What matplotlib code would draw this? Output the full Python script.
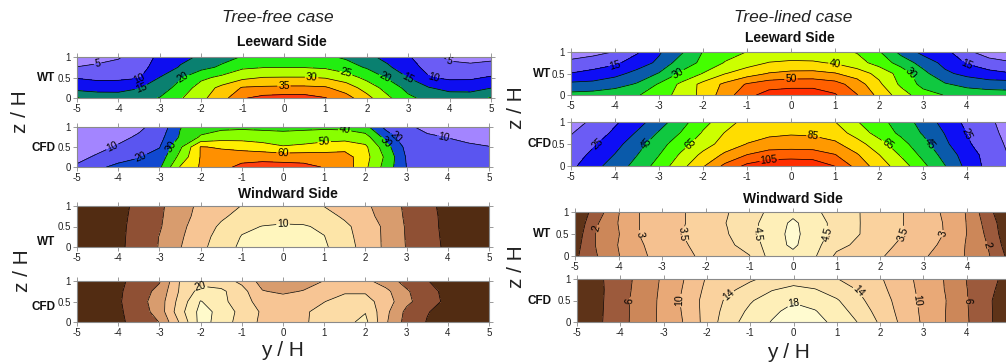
import numpy as np
import matplotlib
matplotlib.use('Agg')
import matplotlib.pyplot as plt

plt.rcParams['font.family'] = ['Liberation Sans', 'DejaVu Sans']
plt.rcParams['axes.unicode_minus'] = False

# grid positions (y/H across street, z/H height)
y_pos = [-5.0, -4.5, -4.0, -3.5, -3.0, -2.5, -2.0, -1.5, -1.0, -0.5, 0.0,
         0.5, 1.0, 1.5, 2.0, 2.5, 3.0, 3.5, 4.0, 4.5, 5.0]
z_pos = [0.0, 0.25, 0.5, 0.75, 1.0]

# ---------------- Tree-free, leeward, WT ----------------
free_lee_wt = [
    [20.3, 18, 17.3, 18.3, 20.2, 24.5, 28.8, 33, 39.5, 41.5, 42, 42, 40.2, 37, 31.5, 26, 21, 18.5, 17.3, 17.8, 20.3],
    [13, 12.8, 13.2, 14.7, 17.5, 21.8, 27.3, 31.3, 35.4, 35.8, 36, 36, 35.6, 32.5, 28, 23, 18.5, 15.2, 13.5, 13, 14.8],
    [9.7, 8.8, 8.8, 9.6, 15.1, 19.5, 23.8, 26.2, 28.7, 30.1, 30.2, 30.2, 29.6, 27.5, 23.5, 19.5, 14.9, 10.3, 9, 9.2, 10.5],
    [5.1, 5.8, 6.8, 8.8, 11.5, 15.5, 18.5, 20.8, 24.2, 24.8, 24.9, 24.8, 24.3, 22, 19.5, 15.8, 12, 8.5, 6.5, 6, 6.5],
    [3, 3.5, 4.5, 7.5, 11, 13.5, 15.8, 18.3, 20.3, 21.5, 22, 21.8, 20.8, 19.3, 16.3, 13.5, 10.5, 7, 4, 3.5, 4],
]
free_lee_wt_levels = [5, 10, 15, 20, 25, 30, 35, 40]
free_lee_wt_labels = [5, 10, 15, 20, 25, 30, 35]

# ---------------- Tree-free, leeward, CFD ----------------
free_lee_cfd = [
    [11, 18, 22.5, 24, 28, 50.5, 61, 67, 72.5, 74, 73.5, 72.5, 69.5, 66, 52, 36, 19.8, 16, 14.5, 13.5, 13],
    [8, 11, 16, 19.5, 24, 43, 60.5, 64, 66, 66.5, 66, 66, 65, 64.5, 53.5, 38, 19, 15.5, 14, 13, 12.5],
    [6, 8, 10.8, 15, 19.5, 38, 60.5, 59, 56.5, 54, 50.8, 52, 54, 56, 52, 34, 17, 13.5, 12, 11, 10.2],
    [4, 5.5, 8, 11, 16.5, 31, 41, 45, 46, 45, 44, 45, 46, 46, 44, 26, 13, 10.8, 9.8, 8.5, 7.5],
    [2, 3, 5, 8.5, 13, 29.5, 36, 37.5, 38, 37.5, 37, 37.5, 38, 37.5, 33, 17, 11, 8.5, 6, 4.5, 4],
]
free_lee_cfd_levels = [10, 20, 30, 40, 50, 60, 70]
free_lee_cfd_labels = [10, 20, 30, 40, 50, 60]

# ---------------- Tree-lined, leeward, WT ----------------
lined_lee_wt = [
    [26.5, 27, 28, 29.5, 33, 36.5, 41.5, 47.5, 53.5, 57, 57.5, 57.5, 55.5, 50.2, 43.5, 37.5, 32, 29.8, 28, 27.5, 27],
    [21.2, 21.5, 23, 25.5, 30.5, 36, 41.5, 46, 50.5, 52.8, 53.5, 53.5, 52, 47.5, 41, 34, 28.5, 25.5, 23.5, 22.5, 22.5],
    [15.2, 16.5, 18.5, 21.5, 25.3, 30.7, 35.2, 39.8, 42.5, 45.3, 46.3, 46.5, 45.3, 42.5, 38.5, 33, 26.5, 21, 18.5, 16.5, 15.3],
    [11.4, 12.5, 14, 17.5, 21, 27.5, 31, 35.3, 38, 40.2, 40.8, 40.6, 39.5, 37, 33, 28, 23, 18.5, 14.5, 12, 10.5],
    [7, 8.5, 10.2, 14.4, 19.4, 24.2, 30.2, 33, 35.1, 36.5, 37, 37, 36.2, 34.7, 30.5, 23.5, 18.5, 16.5, 11, 7.5, 6],
]
lined_lee_wt_levels = [10, 15, 20, 25, 30, 35, 40, 45, 50, 55]
lined_lee_wt_labels = [15, 30, 40, 50]

# ---------------- Tree-lined, leeward, CFD ----------------
lined_lee_cfd = [
    [22.5, 31.5, 39.5, 48.5, 59, 71.5, 84, 97.5, 107.5, 111, 112, 111, 104.8, 91.5, 80, 70, 57.5, 45.3, 32, 21.5, 14],
    [19.5, 27.5, 35.5, 44.8, 54.8, 66.5, 77.5, 87, 95.3, 100.5, 101, 100.5, 95.5, 86, 75.3, 64, 52.5, 41.5, 30, 21, 14],
    [17, 23.5, 31.5, 41, 51, 61, 70.5, 79, 85.3, 88.5, 89.5, 89, 87, 79, 69, 58.5, 48.5, 37, 26.5, 19, 13],
    [14.5, 19.5, 27, 36, 46, 55.5, 66, 75.5, 80.5, 83, 84, 83.5, 80, 71, 61, 53, 44, 34.5, 24.8, 17.5, 12],
    [11.5, 16.5, 23.5, 31, 40.5, 51, 62, 70, 79, 81.5, 82, 81, 75.2, 65.5, 58.5, 50, 41.5, 31, 22.5, 16.5, 11],
]
lined_lee_cfd_levels = [15, 25, 35, 45, 55, 65, 75, 85, 95, 105]
lined_lee_cfd_labels = [25, 45, 65, 85, 105]

# ---------------- Tree-free, windward, WT ----------------
free_wind_wt = [
    [0.9, 1.1, 1.6, 2.8, 4.1, 5.9, 7.5, 9, 10.4, 11, 11.2, 11, 10.3, 8.8, 7.3, 5.6, 3.9, 2.6, 1.7, 1.1, 0.9],
    [0.85, 1.05, 1.6, 2.7, 4.05, 5.7, 7.3, 8.7, 10.1, 10.6, 10.8, 10.7, 10.05, 8.6, 7.2, 5.6, 3.85, 2.55, 1.65, 1.05, 0.85],
    [0.8, 1.0, 1.6, 2.6, 3.8, 5.5, 7.0, 8.3, 9.6, 10.05, 10.2, 10.15, 9.7, 8.4, 7.1, 5.6, 3.8, 2.5, 1.6, 1.0, 0.8],
    [0.8, 1.0, 1.55, 2.5, 3.7, 5.3, 6.6, 7.7, 8.6, 9.2, 9.4, 9.3, 8.7, 7.7, 6.6, 5.3, 3.7, 2.5, 1.55, 1.0, 0.8],
    [0.8, 1.0, 1.5, 2.4, 3.6, 5.2, 6.4, 7.2, 8.05, 8.6, 8.8, 8.6, 7.95, 7.1, 6.3, 5.2, 3.6, 2.4, 1.5, 1.0, 0.8],
]
free_wind_wt_levels = [2, 4, 6, 8, 10]
free_wind_wt_labels = [10]

# ---------------- Tree-free, windward, CFD ----------------
free_wind_cfd = [
    [1.4, 2.3, 3.3, 5.3, 8.1, 16.5, 25.5, 22.5, 18, 15.3, 14.5, 15.5, 17.5, 19, 21, 12.5, 6.5, 3.8, 2.6, 1.8, 1.4],
    [1.5, 2.2, 3.4, 5.8, 9.8, 18.5, 25.3, 23, 18.5, 15.5, 14.5, 15.5, 17.2, 18.5, 19.8, 13, 7, 4.2, 2.6, 1.8, 1.4],
    [1.4, 2.1, 3.5, 6.5, 10, 17.5, 24.2, 21.5, 17, 15, 13.8, 15, 15.9, 17.5, 17.5, 14, 9, 5.5, 3.2, 2.0, 1.5],
    [1.3, 2.0, 3.4, 6, 9.2, 16.5, 21.5, 20.8, 17.5, 12.2, 11.3, 12.2, 14.5, 15.5, 15.5, 13, 8.5, 5.2, 3, 1.9, 1.4],
    [1.3, 1.9, 3.4, 5, 7.6, 16.2, 18.5, 17.8, 15, 10.5, 9.5, 10.3, 12.1, 13.5, 13, 10, 6.5, 4.1, 2.8, 1.8, 1.4],
]
free_wind_cfd_levels = [4, 8, 12, 16, 20, 24]
free_wind_cfd_labels = [20]

# ---------------- Tree-lined, windward, WT ----------------
lined_wind_wt = [
    [1.4, 1.98, 2.48, 2.9, 3.2, 3.4, 3.6, 3.8, 3.98, 4.7, 4.85, 4.55, 3.9, 3.75, 3.55, 3.3, 3.05, 2.8, 2.45, 2.02, 1.3],
    [1.3, 2.05, 2.52, 2.95, 3.25, 3.45, 3.7, 3.9, 4.2, 4.75, 5.1, 4.65, 4.15, 3.9, 3.65, 3.42, 3.15, 2.9, 2.45, 1.95, 1.15],
    [1.2, 2.05, 2.48, 3.02, 3.3, 3.52, 3.75, 3.98, 4.35, 4.75, 5.15, 4.7, 4.35, 4.02, 3.75, 3.52, 3.25, 2.97, 2.48, 1.85, 1.05],
    [1.1, 1.95, 2.52, 3.02, 3.3, 3.48, 3.75, 4.02, 4.35, 4.7, 5.1, 4.7, 4.35, 4.02, 3.78, 3.52, 3.25, 2.96, 2.47, 1.75, 1.05],
    [1.05, 1.75, 2.48, 3.02, 3.25, 3.48, 3.75, 3.98, 4.3, 4.6, 4.85, 4.6, 4.25, 4.02, 3.75, 3.52, 3.2, 2.93, 2.45, 1.6, 1.05],
]
lined_wind_wt_levels = [1.5, 2, 2.5, 3, 3.5, 4, 4.5, 5]
lined_wind_wt_labels = [2, 3, 3.5, 4.5]

# ---------------- Tree-lined, windward, CFD ----------------
lined_wind_cfd = [
    [2.6, 3.7, 5.3, 7, 8.5, 10.2, 12.8, 15.2, 16.9, 18.1, 19.3, 18.6, 17.5, 15.9, 13.7, 11.6, 9.7, 8.05, 6.2, 4.3, 2.8],
    [2.55, 3.65, 5.3, 6.95, 8.5, 10.35, 12.8, 14.8, 16.4, 17.6, 18.6, 18.1, 16.9, 15.2, 13.2, 11.4, 9.6, 8.05, 6.15, 4.3, 2.7],
    [2.5, 3.6, 5.3, 6.9, 8.5, 10.5, 12.8, 14.4, 15.8, 17.0, 17.8, 17.3, 16.2, 14.5, 12.8, 11.3, 9.5, 8.1, 6.1, 4.3, 2.6],
    [2.6, 3.6, 5.15, 6.85, 8.4, 10.3, 12.5, 13.6, 14.8, 15.9, 16.5, 16.1, 15.1, 13.9, 12.5, 11.0, 9.4, 7.95, 6.05, 4.5, 2.9],
    [2.8, 3.7, 5.0, 6.8, 8.3, 10.1, 12.2, 12.9, 13.7, 14.6, 15.2, 14.9, 14.05, 13.3, 12.2, 10.8, 9.3, 7.9, 5.95, 4.7, 3.2],
]
lined_wind_cfd_levels = [4, 6, 8, 10, 12, 14, 16, 18]
lined_wind_cfd_labels = [6, 10, 14, 18]

# ---------------- colours ----------------
rainbow9 = ['#A385FF', '#6B5CF5', '#0E0EF0', '#0A8070', '#22EE11', '#B4FF00', '#FFC800', '#FF8800', '#FF3A10']
rainbow8 = ['#A385FF', '#5A55F0', '#1048D0', '#30E010', '#88FF00', '#FFEE00', '#FF9000', '#FF4010']
rainbow11 = ['#A385FF', '#6B5CF5', '#0E0EF5', '#0A5AAA', '#10C840', '#44FF00', '#CCFF00', '#FFDD00',
             '#FF9900', '#FF6000', '#FF2E00']
brown6 = ['#522C12', '#8F5034', '#D89C6E', '#F7C594', '#FDE5A8', '#FFF6BE']
brown7 = ['#522C12', '#8F5034', '#D89C6E', '#F7C594', '#FCDCA6', '#FEEDB5', '#FFFACB']
brown9 = ['#5E3318', '#9C5A3C', '#CC8759', '#E9A977', '#F5C190', '#FAD29E', '#FCE2AC', '#FEEFB8', '#FFFBD0']

W, H = 1006, 362
fig = plt.figure(figsize=(W / 100, H / 100), dpi=100)


def px_axes(x0, x1, ytop, ybot):
    return fig.add_axes([x0 / W, 1 - ybot / H, (x1 - x0) / W, (ybot - ytop) / H])


def draw(ax, vals, levels, colors, lab_levels):
    V = np.array(vals, dtype=float)
    Y, Z = np.meshgrid(y_pos, z_pos)
    bounds = [min(levels) - 1e4] + list(levels) + [max(levels) + 1e4]
    ax.contourf(Y, Z, V, levels=bounds, colors=colors)
    cs = ax.contour(Y, Z, V, levels=levels, colors='k', linewidths=0.5)
    ax.clabel(cs, levels=lab_levels, inline=True, fontsize=7.5,
              fmt=lambda v: f'{v:g}', inline_spacing=1)
    ax.set_xlim(-5, 5)
    ax.set_ylim(0, 1)
    ax.set_xticks(range(-5, 6))
    ax.set_yticks([0, 0.5, 1])
    ax.set_yticklabels(['0', '0.5', '1'])
    ax.tick_params(direction='out', length=3, width=0.6, colors='#8a8a8a',
                   labelcolor='#222222', labelsize=7, top=True, right=True, pad=1.5)
    for s in ax.spines.values():
        s.set_color('#8a8a8a')
        s.set_linewidth(0.8)


panels = [
    ((77, 491, 57, 98), free_lee_wt, free_lee_wt_levels, rainbow9, free_lee_wt_labels),
    ((77, 489, 127, 167), free_lee_cfd, free_lee_cfd_levels, rainbow8, free_lee_cfd_labels),
    ((77, 489, 206, 247), free_wind_wt, free_wind_wt_levels, brown6, free_wind_wt_labels),
    ((77, 489, 281, 322), free_wind_cfd, free_wind_cfd_levels, brown7, free_wind_cfd_labels),
    ((571, 1011, 52, 95), lined_lee_wt, lined_lee_wt_levels, rainbow11, lined_lee_wt_labels),
    ((571, 1011, 122, 166), lined_lee_cfd, lined_lee_cfd_levels, rainbow11, lined_lee_cfd_labels),
    ((575, 1011, 212, 256), lined_wind_wt, lined_wind_wt_levels, brown9, lined_wind_wt_labels),
    ((577, 1010, 279, 322), lined_wind_cfd, lined_wind_cfd_levels, brown9, lined_wind_cfd_labels),
]
for rect, vals, levels, cols, labs in panels:
    ax = px_axes(*rect)
    draw(ax, vals, levels, cols, labs)


def ftext(x, y, s, **kw):
    fig.text(x / W, 1 - y / H, s, ha=kw.pop('ha', 'center'), va=kw.pop('va', 'center'), **kw)


# row labels
for (x, y, s) in [(55, 78, 'WT'), (55, 148, 'CFD'), (55, 242, 'WT'), (55, 307, 'CFD'),
                  (551, 74, 'WT'), (551, 144, 'CFD'), (551, 234, 'WT'), (551, 301, 'CFD')]:
    ftext(x, y, s, ha='right', fontsize=8.5, fontweight='bold', color='#111111')

# titles
ftext(278, 17, 'Tree-free case', fontsize=12.5, style='italic', color='#222222')
ftext(793, 17, 'Tree-lined case', fontsize=12.5, style='italic', color='#222222')
ftext(282, 42, 'Leeward Side', fontsize=10, fontweight='bold', color='#111111')
ftext(790, 38, 'Leeward Side', fontsize=10, fontweight='bold', color='#111111')
ftext(288, 194, 'Windward Side', fontsize=10, fontweight='bold', color='#111111')
ftext(793, 199, 'Windward Side', fontsize=10, fontweight='bold', color='#111111')

# axis titles
for (x, y) in [(20, 112), (516, 108), (23, 271), (517, 267)]:
    ftext(x, y, 'z / H', fontsize=15, rotation=90, color='#222222')
ftext(282, 351, 'y / H', fontsize=15, color='#222222')
ftext(788, 352, 'y / H', fontsize=15, color='#222222')

fig.savefig('out.png', dpi=100)
